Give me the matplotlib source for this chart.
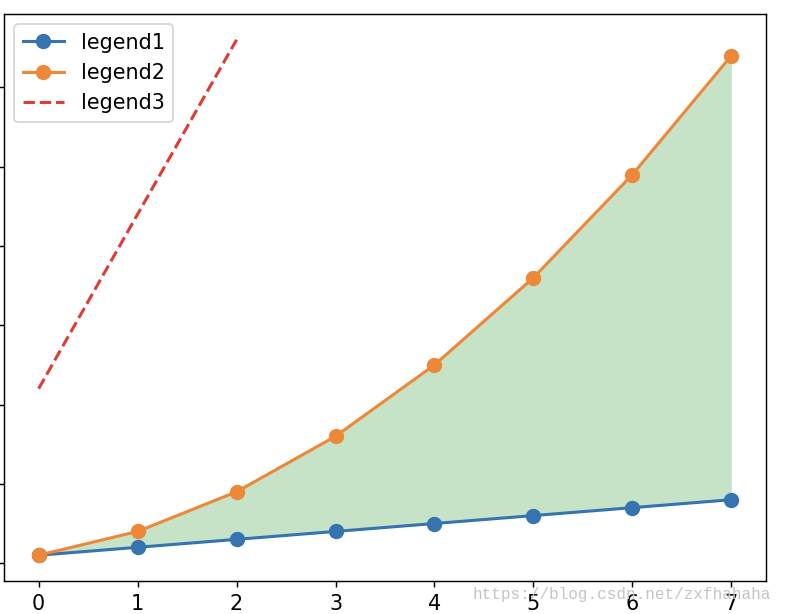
import numpy as np
import matplotlib
matplotlib.use("Agg")
import matplotlib.pyplot as plt

x = [0, 1, 2, 3, 4, 5, 6, 7]
y1 = [1, 2, 3, 4, 5, 6, 7, 8]
y2 = [1, 4, 9, 16, 25, 36, 49, 64]
x3 = [0, 1, 2]
y3 = [22, 44, 66]

plt.rcParams.update({"font.size": 11.5})
fig = plt.figure(figsize=(794 / 130, 614 / 130), dpi=130)
ax = fig.add_axes([4 / 794, 1 - 581 / 614, 762 / 794, 567 / 614])

ax.plot(x, y1, marker="o", ms=7.5, lw=1.7, color="#3674b0", label="legend1")
ax.plot(x, y2, marker="o", ms=7.5, lw=1.7, color="#ee8839", label="legend2")
ax.plot(x3, y3, ls="--", lw=1.7, color="#dc3d35", label="legend3")
ax.fill_between(x, y1, y2, color="green", alpha=0.22, lw=0)
ax.tick_params(pad=3.5)
ax.legend(loc="upper left")

fig.text(0.595, 0.024, "https://blog.csdn.net/zxfhahaha", family="Liberation Mono",
         fontsize=8.9, color="#c4c4c4")
fig.savefig("out.png", dpi=130)
